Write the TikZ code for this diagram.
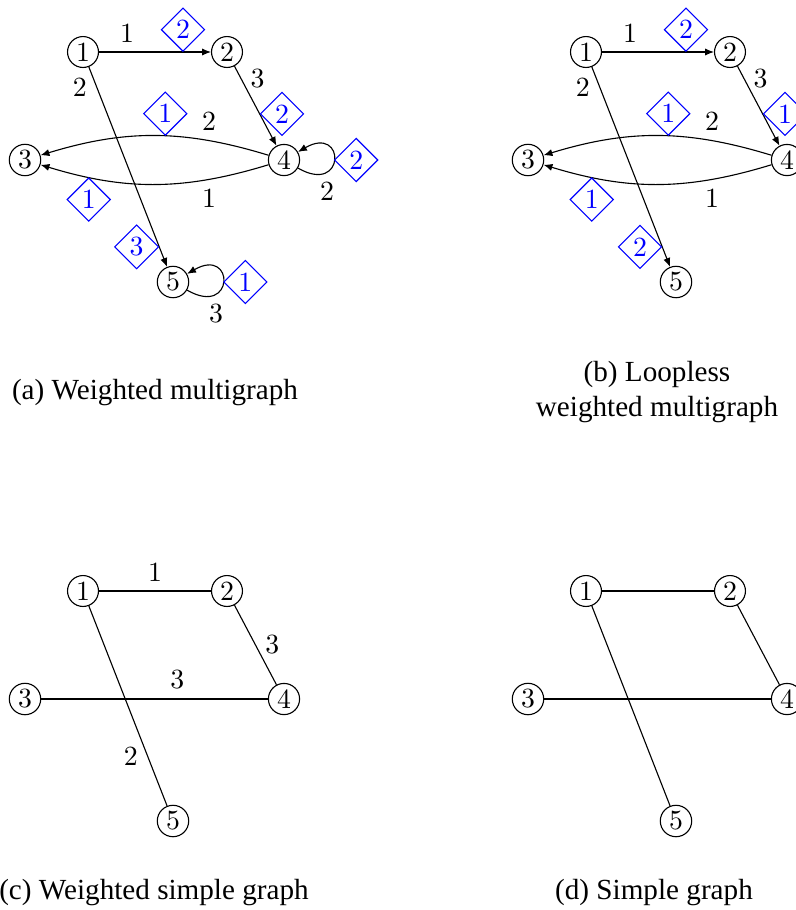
\documentclass[tikz,border=0pt]{standalone}
\usepackage{fontspec}
\newfontfamily\capfont{Liberation Serif}
\usetikzlibrary{shapes.geometric, arrows.meta}

\tikzset{
  vertex/.style={circle, draw, inner sep=1pt},
  tag/.style={diamond, draw=blue, text=blue, aspect=1, inner sep=1pt},
  wt/.style={inner sep=0.3333em},
  arc/.style={-{Latex[length=3.2pt, width=2.6pt]}},
  caption/.style={font=\capfont\fontsize{10.5}{12.6}\selectfont, align=center},
}

% the five vertices of one panel
\newcommand{\vertices}[1]{%
  \foreach \n/\x/\y in {1/83/-52, 2/227/-52, 3/25/-160, 4/284/-160, 5/173/-282}
    \node[vertex] (#1\n) at (\x,\y) {\n};
}

\begin{document}
\begin{tikzpicture}[x=0.36pt, y=0.36pt]
  \useasboundingbox (0,0) rectangle (796,-910);

  % (a) weighted multigraph
  \begin{scope}
    \vertices{a}
    \draw[arc] (a1) -- node[wt, pos=.25, above] (wa12) {1} node[tag, pos=.75, anchor=south] (ta12) {2} (a2);
    \draw[arc] (a2) -- node[wt, pos=.15, right] (wa24) {3} node[tag, pos=.6, anchor=west] (ta24) {2} (a4);
    \draw[arc] (a1) -- node[wt, pos=.1, left] (wa15) {2} node[tag, pos=.9, anchor=east] (ta15) {3} (a5);
    \draw[arc] (a4) to[bend right=17] node[wt, pos=.25, above] (wa43) {2} node[tag, pos=.45, anchor=south] (ta43) {1} (a3);
    \draw[arc] (a4) to[bend left=17] node[wt, pos=.25, below] (wb43) {1} node[tag, pos=.8, anchor=north] (tb43) {1} (a3);
    \draw[arc] (a4) to[out=-30, in=30, min distance=7mm] node[wt, pos=.28, below] (wa44) {2} node[tag, pos=.5, anchor=west] (ta44) {2} (a4);
    \draw[arc] (a5) to[out=-30, in=30, min distance=7mm] node[wt, pos=.28, below] (wa55) {3} node[tag, pos=.5, anchor=west] (ta55) {1} (a5);
    \node[caption] (capa) at (155,-393) {(a) Weighted multigraph};
  \end{scope}

  % (b) loopless weighted multigraph
  \begin{scope}[shift={(503,0)}]
    \vertices{b}
    \draw[arc] (b1) -- node[wt, pos=.25, above] (wb12) {1} node[tag, pos=.75, anchor=south] (tb12) {2} (b2);
    \draw[arc] (b2) -- node[wt, pos=.15, right] (wb24) {3} node[tag, pos=.6, anchor=west] (tb24) {1} (b4);
    \draw[arc] (b1) -- node[wt, pos=.1, left] (wb15) {2} node[tag, pos=.9, anchor=east] (tb15) {2} (b5);
    \draw[arc] (b4) to[bend right=17] node[wt, pos=.25, above] (wbu43) {2} node[tag, pos=.45, anchor=south] (tbu43) {1} (b3);
    \draw[arc] (b4) to[bend left=17] node[wt, pos=.25, below] (wbl43) {1} node[tag, pos=.8, anchor=north] (tbl43) {1} (b3);
    \node[caption] (capb) at (154,-392) {(b) Loopless\\weighted multigraph};
  \end{scope}

  % (c) weighted simple graph
  \begin{scope}[shift={(0,-539)}]
    \vertices{c}
    \draw (c1) -- node[wt, above] (wc12) {1} (c2);
    \draw (c2) -- node[wt, right] (wc24) {3} (c4);
    \draw (c3) -- node[wt, pos=.6, above] (wc34) {3} (c4);
    \draw (c1) -- node[wt, pos=.75, left] (wc15) {2} (c5);
    \node[caption] (capc) at (154,-354) {(c) Weighted simple graph};
  \end{scope}

  % (d) simple graph
  \begin{scope}[shift={(503,-539)}]
    \vertices{d}
    \foreach \s/\t in {1/2, 2/4, 3/4, 1/5}
      \draw (d\s) -- (d\t);
    \node[caption] (capd) at (151,-354) {(d) Simple graph};
  \end{scope}
\end{tikzpicture}
\end{document}
